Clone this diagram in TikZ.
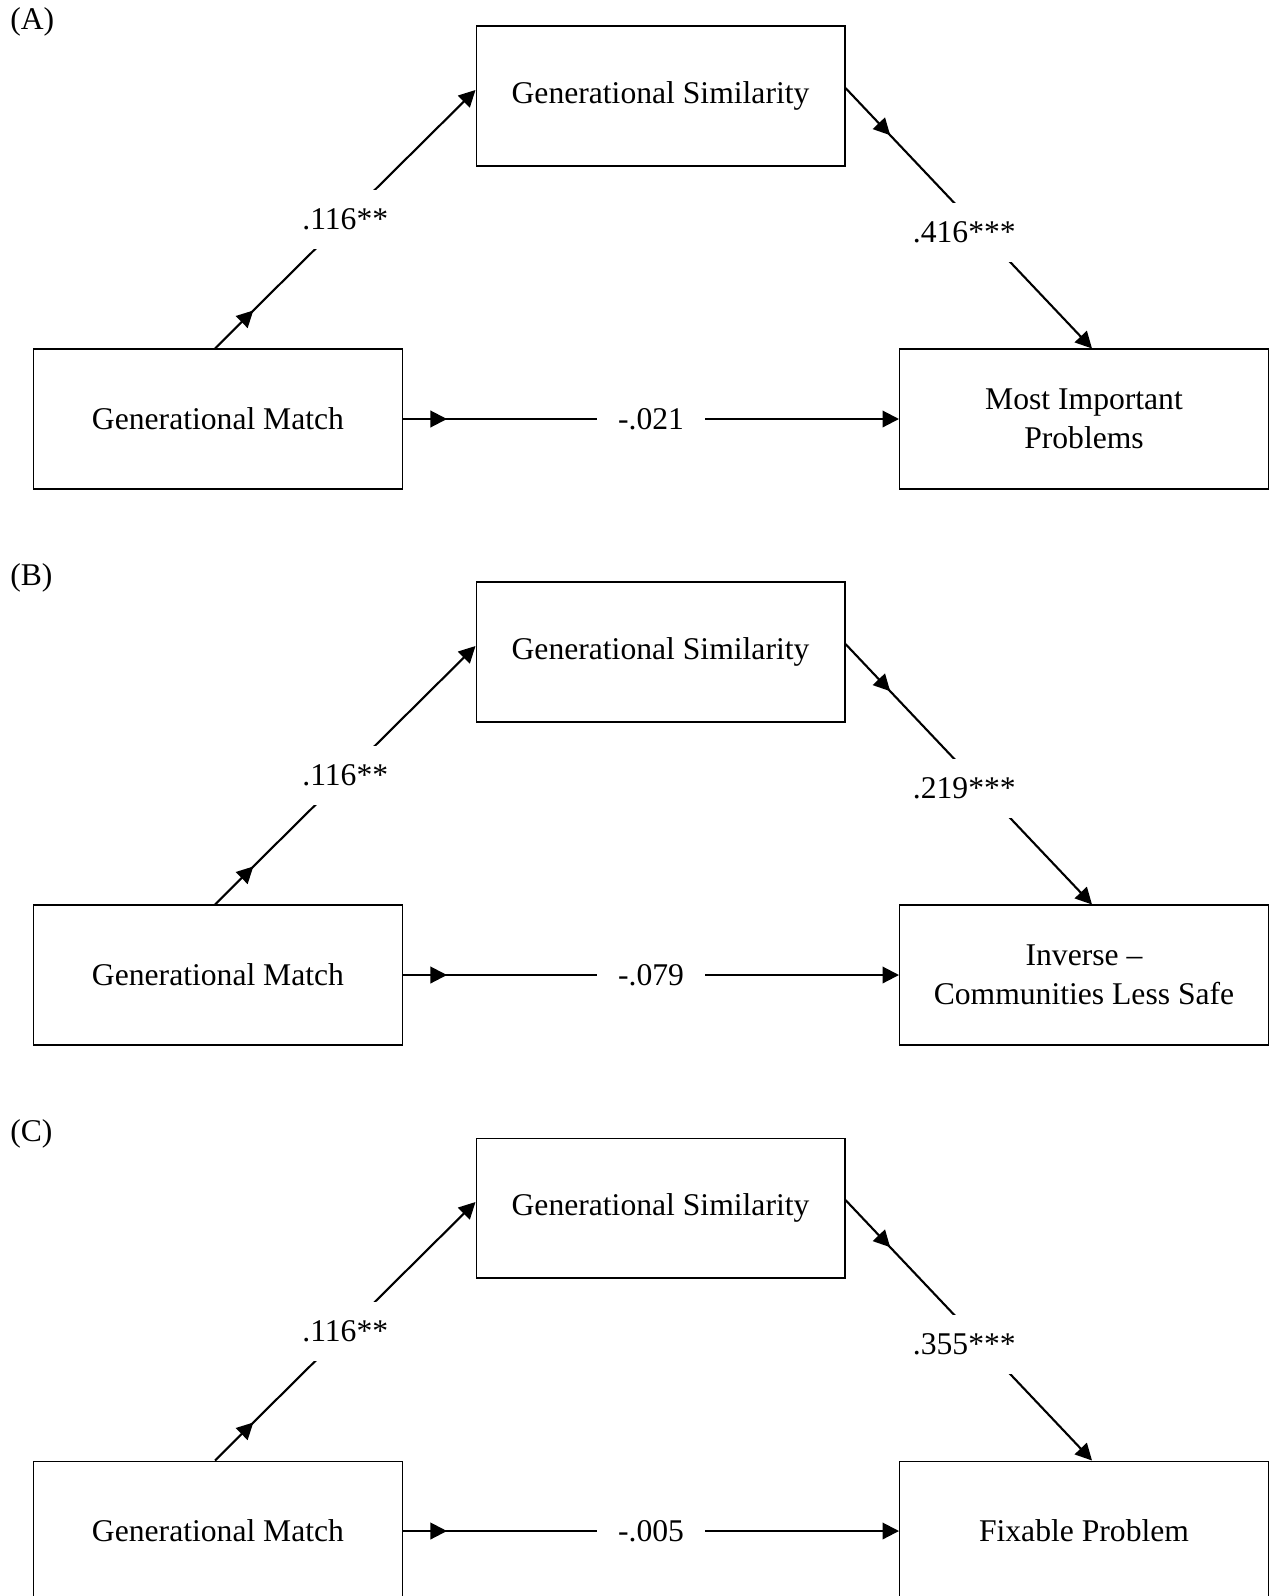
\documentclass[tikz,border=0pt]{standalone}
\usepackage{fontspec}
\setmainfont{Liberation Serif}
\usetikzlibrary{arrows.meta,decorations.markings}

\tikzset{
	varbox/.style={draw, line width=.6pt, minimum width=7.38cm, minimum height=2.8cm, inner sep=2pt, align=center, font=\fontsize{18}{22.2}\selectfont},
	effect/.style={line width=1.2pt, -{Triangle[length=.33cm,width=.33cm]}},
	midtip/.style={postaction={decorate, decoration={markings, mark=at position #1 with {\arrow{Triangle[length=.33cm,width=.33cm]}}}}},
	coef/.style={fill=white, inner xsep=.42cm, inner ysep=.38cm, font=\fontsize{18}{22.2}\selectfont},
	panel/.style={anchor=west, inner sep=0pt, font=\fontsize{18}{22.2}\selectfont}
}

\begin{document}
\begin{tikzpicture}[x=.02cm, y=-.02cm]
	\useasboundingbox (0,0) rectangle (1272,1596);
	\foreach \dy/\lab/\outcome/\a/\b/\c in {
		0/A/{Most Important\\Problems}/.116**/.416***/-.021,
		556/B/{Inverse --\\Communities Less Safe}/.116**/.219***/-.079,
		1112/C/{Fixable Problem}/.116**/.355***/-.005} {
		\node[panel] (lab\lab) at (10,22+\dy) {(\lab)};
		\node[varbox] (sim\lab) at (660.5,96+\dy) {Generational Similarity};
		\node[varbox] (match\lab) at (218,419+\dy) {Generational Match};
		\node[varbox] (out\lab) at (1084,419+\dy) {\outcome};
		% a path
		\draw[effect, midtip=1.08cm] ([xshift=-.06cm]match\lab.north) -- ([yshift=.12cm]sim\lab.west)
			node[coef, pos=.5] (a\lab) {\a};
		% b path
		\draw[effect, midtip=1.3cm] ([yshift=.16cm]sim\lab.east) -- ([xshift=.16cm]out\lab.north)
			node[coef, pos=.555, xshift=-.36cm] (b\lab) {\b};
		% direct path
		\draw[effect, midtip=.88cm] (match\lab.east) -- (out\lab.west)
			node[coef, pos=.5] (c\lab) {\c};
	}
\end{tikzpicture}
\end{document}
